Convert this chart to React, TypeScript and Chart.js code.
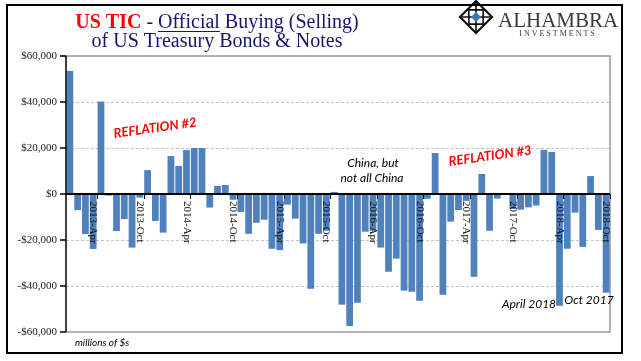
import React, { useEffect, useRef } from "react";
import { Chart, registerables } from "chart.js";

Chart.register(...registerables);

const months = [
  "2013-Jan", "2013-Feb", "2013-Mar", "2013-Apr", "2013-May", "2013-Jun", "2013-Jul", "2013-Aug", "2013-Sep", "2013-Oct", "2013-Nov", "2013-Dec",
  "2014-Jan", "2014-Feb", "2014-Mar", "2014-Apr", "2014-May", "2014-Jun", "2014-Jul", "2014-Aug", "2014-Sep", "2014-Oct", "2014-Nov", "2014-Dec",
  "2015-Jan", "2015-Feb", "2015-Mar", "2015-Apr", "2015-May", "2015-Jun", "2015-Jul", "2015-Aug", "2015-Sep", "2015-Oct", "2015-Nov", "2015-Dec",
  "2016-Jan", "2016-Feb", "2016-Mar", "2016-Apr", "2016-May", "2016-Jun", "2016-Jul", "2016-Aug", "2016-Sep", "2016-Oct", "2016-Nov", "2016-Dec",
  "2017-Jan", "2017-Feb", "2017-Mar", "2017-Apr", "2017-May", "2017-Jun", "2017-Jul", "2017-Aug", "2017-Sep", "2017-Oct", "2017-Nov", "2017-Dec",
  "2018-Jan", "2018-Feb", "2018-Mar", "2018-Apr", "2018-May", "2018-Jun", "2018-Jul", "2018-Aug", "2018-Sep", "2018-Oct",
];

const officialBuying = [
  53500, -7000, -17400, -23900, 40200, -700, -16100, -10900, -23300, -1600, 10400, -11700,
  -16800, 16500, 12200, 19100, 20000, 20000, -5900, 3500, 3900, -2500, -7800, -17300,
  -12500, -11200, -23800, -24400, -4600, -10700, -21500, -41200, -17300, -16000, 900, -48100,
  -57400, -47300, -16400, -16000, -23300, -33800, -28100, -42000, -42500, -46400, -2100, 17800,
  -43800, -12000, -7000, -3000, -36000, 8700, -16000, -2000, 0, -6500, -6800, -5800,
  -5000, 19200, 18300, -48600, -23800, -8100, -23000, 7800, -15600, -42900,
];

const yTicks = [60000, 40000, 20000, 0, -20000, -40000, -60000];
const yTickLabels = ["$60,000", "$40,000", "$20,000", "$0", "-$20,000", "-$40,000", "-$60,000"];
const xTickLabels = [
  "2013-Apr", "2013-Oct", "2014-Apr", "2014-Oct", "2015-Apr", "2015-Oct",
  "2016-Apr", "2016-Oct", "2017-Apr", "2017-Oct", "2018-Apr", "2018-Oct",
];

const NAVY = "#16166e";

const decorPlugin = {
  id: "decor",
  beforeDatasetsDraw(chart: any) {
    const { ctx, chartArea, scales } = chart;
    const y = scales.y;
    const { left, right, top, bottom } = chartArea;
    ctx.save();
    ctx.strokeStyle = "#c4c4c4";
    ctx.lineWidth = 1;
    ctx.setLineDash([3, 2]);
    yTicks.forEach((v) => {
      if (v === 0 || v === 60000 || v === -60000) return;
      const py = Math.round(y.getPixelForValue(v)) + 0.5;
      ctx.beginPath();
      ctx.moveTo(left, py);
      ctx.lineTo(right, py);
      ctx.stroke();
    });
    ctx.setLineDash([]);
    ctx.strokeStyle = "#9a9a9a";
    ctx.lineWidth = 1.5;
    ctx.beginPath();
    ctx.moveTo(left - 4, top);
    ctx.lineTo(right, top);
    ctx.lineTo(right, bottom);
    ctx.lineTo(left, bottom);
    ctx.stroke();
    ctx.restore();
  },
  afterDatasetsDraw(chart: any) {
    const { ctx, chartArea, scales } = chart;
    const x = scales.x;
    const y = scales.y;
    const { left, right, top, bottom } = chartArea;
    const zeroY = y.getPixelForValue(0);
    ctx.save();

    ctx.strokeStyle = "#000";
    ctx.lineWidth = 2;
    ctx.beginPath();
    ctx.moveTo(left, zeroY);
    ctx.lineTo(right, zeroY);
    ctx.stroke();

    ctx.lineWidth = 1.5;
    ctx.beginPath();
    ctx.moveTo(left, top);
    ctx.lineTo(left, bottom);
    ctx.stroke();

    ctx.font = "11px 'Liberation Serif'";
    ctx.fillStyle = "#222";
    ctx.textAlign = "right";
    ctx.textBaseline = "middle";
    yTicks.forEach((v, i) => {
      const py = y.getPixelForValue(v);
      ctx.beginPath();
      ctx.moveTo(left - 6, py);
      ctx.lineTo(left, py);
      ctx.stroke();
      ctx.fillText(yTickLabels[i], left - 9, py);
    });

    const step = (right - left) / months.length;
    ctx.lineWidth = 1;
    ctx.font = "11px 'Liberation Serif'";
    ctx.fillStyle = "#111";
    ctx.textAlign = "left";
    ctx.textBaseline = "middle";
    xTickLabels.forEach((lab) => {
      const idx = months.indexOf(lab);
      if (idx < 0) return;
      const cx = x.getPixelForValue(idx);
      const bx = Math.round(cx + step / 2) + 0.5;
      ctx.beginPath();
      ctx.moveTo(bx, zeroY);
      ctx.lineTo(bx, zeroY + 5);
      ctx.stroke();
      ctx.save();
      ctx.translate(cx, zeroY + 7);
      ctx.rotate(Math.PI / 2);
      ctx.fillText(lab, 0, 0);
      ctx.restore();
    });

    const parts = [
      { t: "US TIC", c: "#ff0000", f: "bold 20px 'Liberation Serif'", u: false },
      { t: " - ", c: NAVY, f: "20px 'Liberation Serif'", u: false },
      { t: "Official", c: NAVY, f: "20px 'Liberation Serif'", u: true },
      { t: " Buying (Selling)", c: NAVY, f: "20px 'Liberation Serif'", u: false },
    ];
    let total = 0;
    parts.forEach((p) => {
      ctx.font = p.f;
      total += ctx.measureText(p.t).width;
    });
    let tx = 217 - total / 2;
    ctx.textAlign = "left";
    ctx.textBaseline = "alphabetic";
    parts.forEach((p) => {
      ctx.font = p.f;
      ctx.fillStyle = p.c;
      ctx.fillText(p.t, tx, 28);
      const w = ctx.measureText(p.t).width;
      if (p.u) {
        ctx.strokeStyle = p.c;
        ctx.lineWidth = 1.2;
        ctx.beginPath();
        ctx.moveTo(tx, 31.5);
        ctx.lineTo(tx + w, 31.5);
        ctx.stroke();
      }
      tx += w;
    });
    ctx.font = "20px 'Liberation Serif'";
    ctx.fillStyle = NAVY;
    ctx.textAlign = "center";
    ctx.fillText("of US Treasury Bonds & Notes", 217, 47);

    // logo mark
    const lx = 476, ly = 17, r = 16;
    ctx.strokeStyle = "#111";
    ctx.lineWidth = 2.2;
    ctx.beginPath();
    ctx.moveTo(lx, ly - r);
    ctx.lineTo(lx + r, ly);
    ctx.lineTo(lx, ly + r);
    ctx.lineTo(lx - r, ly);
    ctx.closePath();
    ctx.stroke();
    ctx.lineWidth = 1.6;
    const r2 = r * 0.62;
    ctx.beginPath();
    ctx.rect(lx - r2 * 0.72, ly - r2 * 0.72, r2 * 1.44, r2 * 1.44);
    ctx.stroke();
    ctx.beginPath();
    ctx.moveTo(lx - r, ly);
    ctx.lineTo(lx + r, ly);
    ctx.moveTo(lx, ly - r);
    ctx.lineTo(lx, ly + r);
    ctx.stroke();
    ctx.fillStyle = "#3d72b8";
    ctx.beginPath();
    ctx.moveTo(lx, ly - 5);
    ctx.lineTo(lx + 5, ly);
    ctx.lineTo(lx, ly + 5);
    ctx.lineTo(lx - 5, ly);
    ctx.closePath();
    ctx.fill();

    ctx.fillStyle = "#3a3a3a";
    ctx.textAlign = "left";
    ctx.font = "21px 'Liberation Serif'";
    ctx.fillText("ALHAMBRA", 498, 27);
    ctx.font = "8px 'Liberation Serif'";
    (ctx as any).letterSpacing = "2px";
    ctx.textAlign = "center";
    ctx.fillText("INVESTMENTS", 558, 36);
    (ctx as any).letterSpacing = "0px";

    const drawRot = (text: string, cx: number, cy: number) => {
      ctx.save();
      ctx.translate(cx, cy);
      ctx.rotate(-8 * Math.PI / 180);
      ctx.font = "italic bold 13px Lato";
      ctx.fillStyle = "#ff0000";
      ctx.textAlign = "center";
      ctx.textBaseline = "middle";
      ctx.fillText(text, 0, 0);
      ctx.restore();
    };
    drawRot("REFLATION #2", 155, 128);
    drawRot("REFLATION #3", 490, 156);

    ctx.fillStyle = "#000";
    ctx.font = "italic 12px Lato";
    ctx.textAlign = "center";
    ctx.textBaseline = "middle";
    ctx.fillText("China, but", 373, 163);
    ctx.fillText("not all China", 372, 178);
    ctx.fillText("April 2018", 529, 304);
    ctx.fillText("Oct 2017", 589, 300);
    ctx.font = "italic 10px Lato";
    ctx.textAlign = "left";
    ctx.fillText("millions of $s", 75, 343);

    ctx.strokeStyle = "#000";
    ctx.lineWidth = 2;
    ctx.strokeRect(7, 5, 615, 348);

    ctx.restore();
  },
};

export default function App() {
  const canvasRef = useRef<HTMLCanvasElement | null>(null);

  useEffect(() => {
    document.body.style.margin = "0";
    const canvas = canvasRef.current;
    if (!canvas) return;
    const chart = new Chart(canvas, {
      type: "bar",
      data: {
        labels: months,
        datasets: [
          {
            data: officialBuying,
            backgroundColor: "#4f81bd",
            borderWidth: 0,
            barPercentage: 0.87,
            categoryPercentage: 1,
          },
        ],
      },
      options: {
        animation: false,
        responsive: false,
        devicePixelRatio: 1,
        events: [],
        layout: { padding: { left: 66, right: 31, top: 56, bottom: 29 } },
        plugins: {
          legend: { display: false },
          tooltip: { enabled: false },
          title: { display: false },
        },
        scales: {
          x: { display: false },
          y: { display: false, min: -60000, max: 60000 },
        },
      },
      plugins: [decorPlugin],
    });
    return () => chart.destroy();
  }, []);

  return (
    <div style={{ width: 641, height: 361, background: "#fff" }}>
      <canvas ref={canvasRef} width={641} height={361} style={{ display: "block" }} />
    </div>
  );
}
